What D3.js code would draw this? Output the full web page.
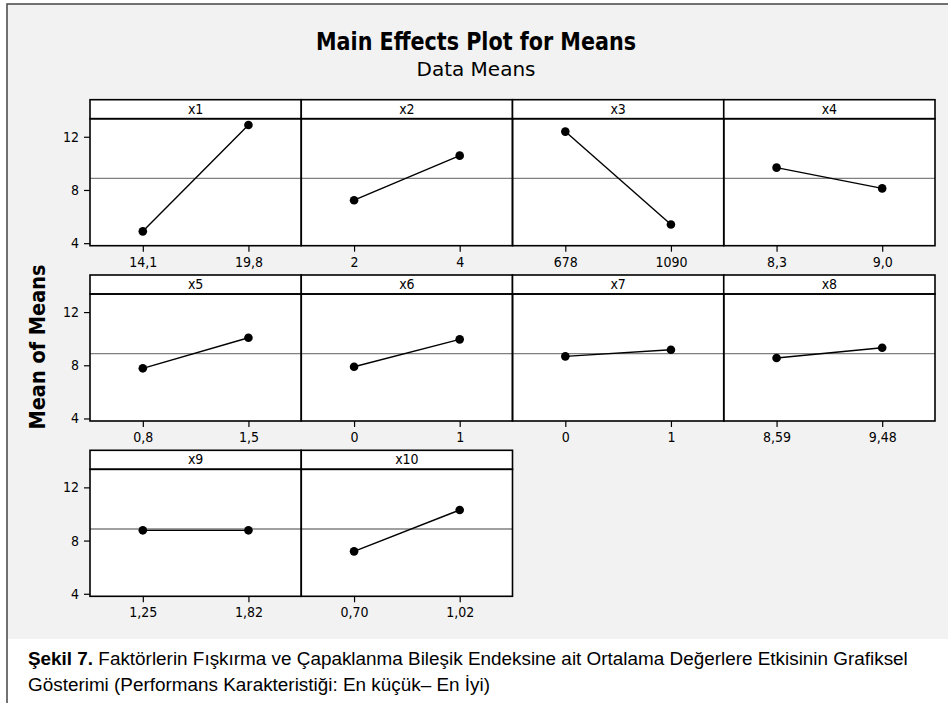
<!DOCTYPE html>
<html>
<head>
<meta charset="utf-8">
<script src="https://cdn.jsdelivr.net/npm/d3@7"></script>
<style>
  body { margin: 0; background: #fff; }
  svg { display: block; }
  .tick text { font-family: "DejaVu Sans", sans-serif; font-stretch: condensed; font-size: 14px; fill: #000; }
  .tick line { stroke: #000; stroke-width: 1.2; }
</style>
</head>
<body>
<div id="chart"></div>
<script>
// values
var factors = ["x1", "x2", "x3", "x4", "x5", "x6", "x7", "x8", "x9", "x10"];
var levels = [["14,1", "19,8"], ["2", "4"], ["678", "1090"], ["8,3", "9,0"],
              ["0,8", "1,5"], ["0", "1"], ["0", "1"], ["8,59", "9,48"],
              ["1,25", "1,82"], ["0,70", "1,02"]];
var lowMeans  = [4.89, 7.23, 12.39, 9.68, 7.77, 7.89, 8.67, 8.55, 8.77, 7.19];
var highMeans = [12.89, 10.58, 5.40, 8.12, 10.07, 9.95, 9.17, 9.32, 8.77, 10.30];
var grandMean = 8.87;
var yTicks = [4, 8, 12];

var width = 948, height = 703;

var svg = d3.select("#chart")
    .append("svg")
    .attr("width", width)
    .attr("height", height);

// grey page + frame
svg.append("rect")
    .attr("x", 7).attr("y", 4)
    .attr("width", width - 7).attr("height", 635)
    .attr("fill", "#f2f2f2");
svg.append("path")
    .attr("d", "M7," + height + "V4H" + width)
    .attr("fill", "none")
    .attr("stroke", "#444")
    .attr("stroke-width", 1.5);

// panel grid
var left = 90, panelW = 211.25;
var firstBottom = 245.7, rowStep = 175.3;
var plotH = 127, headerH = 19;
var perRow = 4;

var y = d3.scaleLinear()
    .domain([3.81, 3.81 + plotH / 13.3])
    .range([plotH, 0]);

var nRows = Math.ceil(factors.length / perRow);
for (var r = 0; r < nRows; r++) {
    var inRow = Math.min(perRow, factors.length - r * perRow);
    var rowTop = firstBottom + r * rowStep - plotH;
    var rowG = svg.append("g").attr("transform", "translate(" + left + "," + rowTop + ")");

    rowG.append("rect")
        .attr("x", 0).attr("y", -headerH)
        .attr("width", inRow * panelW).attr("height", plotH + headerH)
        .attr("fill", "#fff");

    rowG.append("line")
        .attr("x1", 0).attr("x2", inRow * panelW)
        .attr("y1", y(grandMean)).attr("y2", y(grandMean))
        .attr("stroke", "#808080")
        .attr("stroke-width", 1.3);

    rowG.append("g")
        .call(d3.axisLeft(y).tickValues(yTicks).tickSize(6).tickPadding(5))
        .call(function (g) { g.select(".domain").remove(); });
}

factors.forEach(function (name, i) {
    var r = Math.floor(i / perRow), c = i % perRow;
    var pTop = firstBottom + r * rowStep - plotH;
    var g = svg.append("g")
        .attr("transform", "translate(" + (left + c * panelW) + "," + pTop + ")");

    var x = d3.scalePoint()
        .domain(levels[i])
        .range([0, panelW])
        .padding(0.5);

    var pts = [
        { lvl: levels[i][0], v: lowMeans[i] },
        { lvl: levels[i][1], v: highMeans[i] }
    ];

    g.append("path")
        .datum(pts)
        .attr("fill", "none")
        .attr("stroke", "#000")
        .attr("stroke-width", 1.4)
        .attr("d", d3.line().x(function (d) { return x(d.lvl); }).y(function (d) { return y(d.v); }));

    g.selectAll("circle")
        .data(pts)
        .join("circle")
        .attr("cx", function (d) { return x(d.lvl); })
        .attr("cy", function (d) { return y(d.v); })
        .attr("r", 4.3)
        .attr("fill", "#000");

    g.append("g")
        .attr("transform", "translate(0," + plotH + ")")
        .call(d3.axisBottom(x).tickSize(6).tickPadding(5))
        .call(function (a) { a.select(".domain").remove(); });

    // header strip and borders
    g.append("rect")
        .attr("x", 0).attr("y", -headerH)
        .attr("width", panelW).attr("height", headerH)
        .attr("fill", "#fff")
        .attr("stroke", "#000")
        .attr("stroke-width", 1.6);
    g.append("rect")
        .attr("x", 0).attr("y", 0)
        .attr("width", panelW).attr("height", plotH)
        .attr("fill", "none")
        .attr("stroke", "#000")
        .attr("stroke-width", 1.6);
    g.append("text")
        .attr("x", panelW / 2).attr("y", -5)
        .attr("text-anchor", "middle")
        .style("font-family", "DejaVu Sans, sans-serif")
        .style("font-stretch", "condensed")
        .style("font-size", "14px")
        .text(name);
});

svg.append("text")
    .attr("x", 476).attr("y", 50)
    .attr("text-anchor", "middle")
    .attr("textLength", 320)
    .attr("lengthAdjust", "spacingAndGlyphs")
    .style("font-family", "DejaVu Sans, sans-serif")
    .style("font-weight", "bold")
    .style("font-size", "24px")
    .text("Main Effects Plot for Means");

svg.append("text")
    .attr("x", 476).attr("y", 76)
    .attr("text-anchor", "middle")
    .style("font-family", "DejaVu Sans, sans-serif")
    .style("font-size", "20px")
    .text("Data Means");

svg.append("text")
    .attr("transform", "translate(45,347) rotate(-90)")
    .attr("text-anchor", "middle")
    .style("font-family", "DejaVu Sans, sans-serif")
    .style("font-stretch", "condensed")
    .style("font-weight", "bold")
    .style("font-size", "21.5px")
    .text("Mean of Means");

// caption under the figure
var cap = svg.append("g")
    .style("font-family", "Liberation Sans, Arial, sans-serif")
    .style("font-size", "18.9px");
var line1 = cap.append("text").attr("x", 28).attr("y", 665);
line1.append("tspan").style("font-weight", "bold").text("Şekil 7.");
line1.append("tspan").text(" Faktörlerin Fışkırma ve Çapaklanma Bileşik Endeksine ait Ortalama Değerlere Etkisinin Grafiksel");
cap.append("text").attr("x", 28).attr("y", 691)
    .text("Gösterimi (Performans Karakteristiği: En küçük– En İyi)");
</script>
</body>
</html>
